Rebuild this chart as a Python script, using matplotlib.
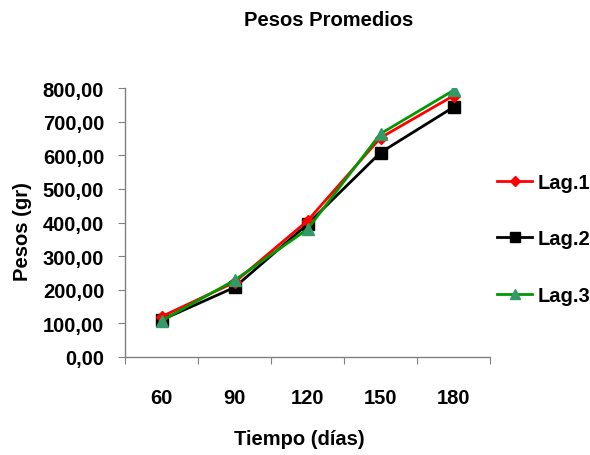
import numpy as np
import matplotlib.pyplot as plt
from matplotlib.ticker import FixedLocator, NullFormatter

plt.rcParams['font.family'] = ['Liberation Sans', 'DejaVu Sans']
plt.rcParams['font.weight'] = 'bold'

# data
dias = ['60', '90', '120', '150', '180']
lag1 = [120, 222, 405, 652, 777]
lag2 = [110, 207, 395, 608, 743]
lag3 = [108, 228, 380, 664, 793]
yticks = [0, 100, 200, 300, 400, 500, 600, 700, 800]
ylabels = ['%d,00' % v for v in yticks]

fig = plt.figure(figsize=(5.9, 4.56), dpi=100)
ax = fig.add_axes([125/590, 1-358/456, (490-125)/590, (358-89)/456])

x = np.arange(len(dias))
ax.plot(x, lag1, color='#ff0000', lw=2, marker='D', ms=6, mfc='#ff0000', mec='#ff0000', label='Lag.1', zorder=3)
ax.plot(x, lag2, color='#000000', lw=2, marker='s', ms=9, mfc='#000000', mec='#000000', label='Lag.2', zorder=2)
ax.plot(x, lag3, color='#009900', lw=2, marker='^', ms=9, mfc='#339966', mec='#339966', label='Lag.3', zorder=4)

ax.set_ylim(0, 800)
ax.set_xlim(-0.5, len(dias) - 0.5)
ax.set_yticks(yticks)
ax.set_yticklabels(ylabels, fontsize=14.5, fontweight='bold')
# category axis: ticks between categories, labels centred on them
ax.xaxis.set_major_locator(FixedLocator(np.arange(-0.5, len(dias), 1.0)))
ax.xaxis.set_major_formatter(NullFormatter())
ax.set_xticks(x, minor=True)
ax.set_xticklabels(dias, minor=True, fontsize=14.5, fontweight='bold')
ax.tick_params(axis='x', which='minor', length=0, pad=22)
ax.tick_params(axis='x', which='major', length=5, color='#808080')
ax.tick_params(axis='y', length=5, color='#808080', pad=10)

for s in ['top', 'right']:
    ax.spines[s].set_visible(False)
for s in ['left', 'bottom']:
    ax.spines[s].set_color('#808080')
    ax.spines[s].set_linewidth(1)

fig.text(329/590, 1-21/456, 'Pesos Promedios', ha='center', va='center', fontsize=14.5, fontweight='bold')
fig.text(299/590, 1-440/456, 'Tiempo (días)', ha='center', va='center', fontsize=14.5, fontweight='bold')
fig.text(23/590, 1-232/456, 'Pesos (gr)', ha='center', va='center', rotation=90, fontsize=14.5, fontweight='bold')

fig.legend(loc='center left', bbox_to_anchor=(497/590, 1-240/456), frameon=False,
           borderpad=0, borderaxespad=0, handlelength=1.75, handletextpad=0.25,
           labelspacing=1.85, markerscale=0.8, prop={'size': 14.5, 'weight': 'bold'})

fig.savefig('out.png', dpi=100)
